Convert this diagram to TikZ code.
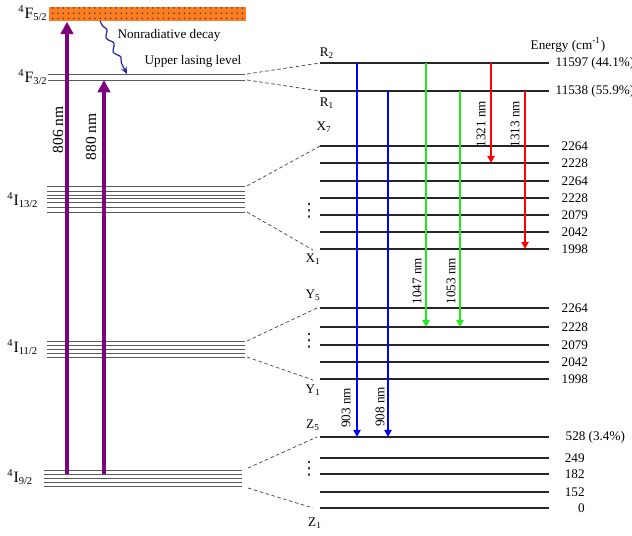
\documentclass[tikz,border=0pt]{standalone}
\usepackage{fontspec}
\setmainfont{Liberation Serif}
\newfontfamily\dotsfont{DejaVu Sans}
\usetikzlibrary{arrows.meta,positioning,patterns,decorations.pathmorphing}

\definecolor{pumppurple}{RGB}{125,0,125}
\definecolor{bandorange}{RGB}{255,125,30}
\definecolor{decaynavy}{RGB}{40,40,160}
\definecolor{lasgreen}{RGB}{30,235,30}

\begin{document}
\begin{tikzpicture}[x=0.02cm, y=-0.02cm,
    font=\fontsize{7.5}{9}\selectfont,
    sublevel/.style={draw=black!65, line width=0.55pt},
    level/.style={draw=black!85, line width=0.75pt},
    link/.style={draw=black!75, line width=0.4pt, dash pattern=on 2pt off 1.5pt},
    band/.style={preaction={fill=bandorange}, pattern=dots, pattern color=black!75, inner sep=0pt, anchor=north west, minimum width=3.94cm, minimum height=0.28cm},
    term/.style={font=\fontsize{9}{10}\selectfont, anchor=west, inner sep=0pt},
    stark/.style={inner sep=0pt},
    vdotsmark/.style={inner sep=0pt, font=\dotsfont\fontsize{10.5}{11}\selectfont, text=black!80},
    energy/.style={anchor=west, inner sep=0pt},
    pump/.style={draw=pumppurple, line width=2.8pt, -{Triangle[length=7pt,width=7pt]}},
    pumplabel/.style={rotate=90, font=\fontsize{8.8}{10}\selectfont, inner sep=0pt},
    emit/.style={draw=#1, line width=1.2pt, -{Triangle[length=4pt,width=4pt]}},
    wavelength/.style={rotate=90, inner sep=0pt},
    decay/.style={draw=decaynavy, line width=0.7pt, -{Stealth[length=4pt,width=3.5pt]}, decorate,
        decoration={snake, amplitude=1.3pt, segment length=9pt, pre length=3pt, post length=4pt}}
]
\useasboundingbox (0,0) rectangle (632,535);

% Left-hand multiplets
\node[band] (F52) at (49,7) {};
\node[term] (tF52) at (18,13) {\textsuperscript{4}F\textsubscript{5/2}};

\draw[sublevel] (48,74) coordinate (F32l1) -- (245,74) coordinate (F32r1);
\draw[sublevel] (48,80) coordinate (F32l2) -- (245,80) coordinate (F32r2);
\node[term] (tF32) at (18,77) {\textsuperscript{4}F\textsubscript{3/2}};

\foreach \y [count=\i] in {186,191,195,198,202,207,212}
    \draw[sublevel] (47,\y) coordinate (I132l\i) -- (245,\y) coordinate (I132r\i);
\node[term] (tI132) at (7,200) {\textsuperscript{4}I\textsubscript{13/2}};

\foreach \y [count=\i] in {341,345,349,353,357}
    \draw[sublevel] (47,\y) coordinate (I112l\i) -- (245,\y) coordinate (I112r\i);
\node[term] (tI112) at (7,347) {\textsuperscript{4}I\textsubscript{11/2}};

\foreach \y [count=\i] in {470,474,478,482,486}
    \draw[sublevel] (44,\y) coordinate (I92l\i) -- (242,\y) coordinate (I92r\i);
\node[term] (tI92) at (7,477) {\textsuperscript{4}I\textsubscript{9/2}};

% Stark levels (right)
\foreach \n/\y/\e in {R2/63/{11597 (44.1\%)}, R1/91/{11538 (55.9\%)}}
    \draw[level] (320,\y) coordinate (\n) -- (549,\y) node[energy, xshift=0.12cm] (e\n) {\e};
\foreach \n/\y/\e in {X7/146/2264, X6/163/2228, X5/181/2264, X4/198/2228, X3/215/2079, X2/232/2042, X1/249/1998,
                      Y5/308/2264, Y4/327/2228, Y3/345/2079, Y2/362/2042, Y1/379/1998}
    \draw[level] (320,\y) coordinate (\n) -- (549,\y) node[energy, xshift=0.24cm] (e\n) {\e};
\draw[level] (320,437) coordinate (Z5) -- (549,437) node[energy, xshift=0.32cm] (eZ5) {528 (3.4\%)};
\foreach \n/\y/\e in {Z4/458/249, Z3/474/182, Z2/492/152, Z1/508/0} {
    \draw[level] (320,\y) coordinate (\n) -- (549,\y);
    \node[anchor=east, inner sep=0pt] (e\n) at (585,\y) {\e};
}
\node (energyhead) at (568,45) {Energy (cm\textsuperscript{-1})};

% Stark labels
\node[stark] (lR2) at (327,53) {R\textsubscript{2}};
\node[stark] (lR1) at (327,103) {R\textsubscript{1}};
\node[stark] (lX7) at (324,127) {X\textsubscript{7}};
\node[stark] (lX1) at (313,259) {X\textsubscript{1}};
\node[stark] (lY5) at (313,295) {Y\textsubscript{5}};
\node[stark] (lY1) at (313,390) {Y\textsubscript{1}};
\node[stark] (lZ5) at (313,425) {Z\textsubscript{5}};
\node[stark] (lZ1) at (315,523) {Z\textsubscript{1}};
\node[vdotsmark] (dX) at (309,211) {⋮};
\node[vdotsmark] (dY) at (309,341) {⋮};
\node[vdotsmark] (dZ) at (309,469) {⋮};

% Splitting links
\draw[link] ([xshift=0.04cm]F32r1) -- (R2);
\draw[link] ([xshift=0.04cm]F32r2) -- (R1);
\draw[link] ([xshift=0.04cm]I132r1) -- (X7);
\draw[link] ([xshift=0.04cm]I132r7) -- ([xshift=-0.14cm,yshift=-0.02cm]X1);
\draw[link] ([xshift=0.04cm]I112r1) -- ([xshift=-0.06cm]Y5);
\draw[link] ([xshift=0.04cm]I112r5) -- ([xshift=-0.14cm,yshift=-0.02cm]Y1);
\draw[link] ([xshift=0.12cm,yshift=0.04cm]I92r1) -- ([xshift=-0.06cm]Z5);
\draw[link] ([xshift=0.12cm,yshift=-0.04cm]I92r5) -- ([xshift=-0.14cm]Z1);

% Pumping
\coordinate (p806) at (67,0);
\coordinate (p880) at (104,0);
\draw[pump] (p806 |- I92l2) -- (p806 |- F52.south);
\draw[pump] (p880 |- I92l2) -- (p880 |- F32l2);
\node[pumplabel] (l806) at (58,130) {806 nm};
\node[pumplabel] (l880) at (91,137) {880 nm};

% Nonradiative decay
\coordinate (nrA) at (100,21);
\coordinate (nrB) at (127,74);
\draw[decay] (nrA) -- (nrB);
\node (nrtext) at (169,35) {Nonradiative decay};
\node (ulltext) at (193,61) {Upper lasing level};

% Laser transitions
\coordinate (cB1) at (357,0);
\coordinate (cB2) at (388,0);
\coordinate (cG1) at (426,0);
\coordinate (cG2) at (460,0);
\coordinate (cR1) at (491,0);
\coordinate (cR2) at (525,0);
\draw[emit=blue] (cB1 |- R2) -- (cB1 |- Z5);
\draw[emit=blue] (cB2 |- R1) -- (cB2 |- Z5);
\draw[emit=lasgreen] (cG1 |- R2) -- (cG1 |- Y4);
\draw[emit=lasgreen] (cG2 |- R1) -- (cG2 |- Y4);
\draw[emit=red] (cR1 |- R2) -- (cR1 |- X6);
\draw[emit=red] (cR2 |- R1) -- (cR2 |- X1);
\node[wavelength] (l903) at (346,408) {903 nm};
\node[wavelength] (l908) at (380,407) {908 nm};
\node[wavelength] (l1047) at (417,281) {1047 nm};
\node[wavelength] (l1053) at (451,281) {1053 nm};
\node[wavelength] (l1321) at (481,124) {1321 nm};
\node[wavelength] (l1313) at (515,124) {1313 nm};

\end{tikzpicture}
\end{document}
